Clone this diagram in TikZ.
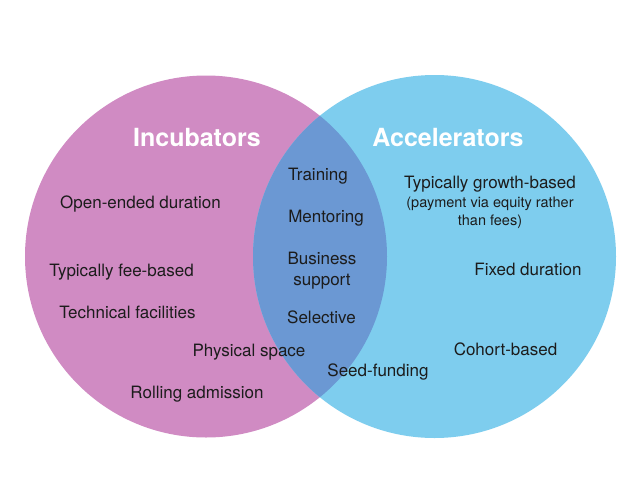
\documentclass[tikz,border=0pt]{standalone}
\usepackage{fontspec}
\setmainfont{TeX Gyre Heros}
\definecolor{incpink}{HTML}{D08BC3}
\definecolor{accblue}{HTML}{7ECDEE}
\definecolor{bothblue}{HTML}{6B98D3}
\definecolor{textdark}{HTML}{1C1C1C}
\begin{document}
\begin{tikzpicture}[x=1pt,y=-1pt,
    title/.style={text=white,font=\fontsize{25}{30}\bfseries\selectfont,inner sep=0pt,anchor=base},
    item/.style={text=textdark,font=\fontsize{17}{21}\selectfont,inner sep=0pt,anchor=base},
    twoline/.style={text=textdark,font=\fontsize{17}{21}\selectfont,inner sep=0pt,align=center},
    note/.style={text=textdark,font=\fontsize{14.5}{18}\selectfont,inner sep=0pt,align=center}]
  \useasboundingbox (0,0) rectangle (640,480);
  \fill[white] (0,0) rectangle (640,480);
  % the two sets
  \coordinate (inccentre) at (206,256.5);
  \coordinate (acccentre) at (434.5,256.5);
  \fill[incpink] (inccentre) circle (181pt);
  \fill[accblue] (acccentre) circle (181.5pt);
  \begin{scope}
    \clip (inccentre) circle (181pt);
    \fill[bothblue] (acccentre) circle (181.5pt);
  \end{scope}
  % titles
  \node[title] (inc) at (197,146) {Incubators};
  \node[title] (acc) at (448,146) {Accelerators};
  % incubators only
  \node[item] (openended) at (140.5,208) {Open-ended duration};
  \node[item] (feebased) at (121.5,276) {Typically fee-based};
  \node[item] (techfac) at (127.5,318) {Technical facilities};
  \node[item] (physspace) at (249,356) {Physical space};
  \node[item] (rolling) at (197,398) {Rolling admission};
  % both
  \node[item] (training) at (318,180) {Training};
  \node[item] (mentoring) at (326,222) {Mentoring};
  \node[twoline] (business) at (322,271) {Business\\support};
  \node[item] (selective) at (321.5,323) {Selective};
  \node[item] (seedfund) at (378,376.5) {Seed-funding};
  % accelerators only
  \node[item] (growth) at (490,188.5) {Typically growth-based};
  \node[note] (payment) at (490,212.5) {(payment via equity rather\\than fees)};
  \node[item] (fixeddur) at (528,275) {Fixed duration};
  \node[item] (cohort) at (505.5,355) {Cohort-based};
\end{tikzpicture}
\end{document}
